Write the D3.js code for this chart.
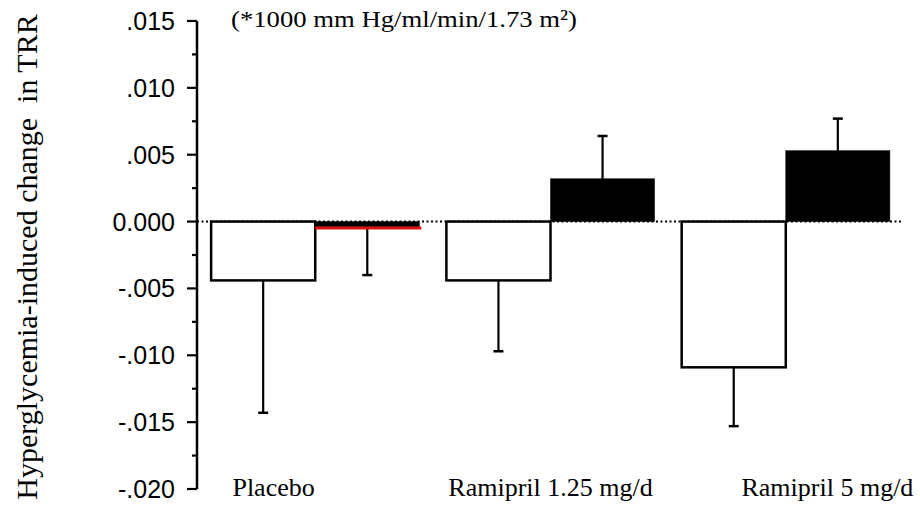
<!DOCTYPE html>
<html lang="en">
<head>
    <meta charset="UTF-8">
    <title>Hyperglycemia-induced change in TRR</title>
    <script src="https://d3js.org/d3.v7.min.js"></script>
    <style>
        body { margin: 0; background: #fff; }
        .serif { font-family: "Liberation Serif", "Times New Roman", serif; }
        .sans { font-family: "Liberation Sans", Arial, sans-serif; }
    </style>
</head>
<body>
    <svg id="chart" width="920" height="511"></svg>

    <script>
        // chart values
        const groups = ['Placebo', 'Ramipril 1.25 mg/d', 'Ramipril 5 mg/d'];
        const openMeans = [-0.0044, -0.0044, -0.0109];
        const openSem = [0.0099, 0.0053, 0.0044];
        const filledMeans = [-0.0004, 0.0032, 0.0053];
        const filledSem = [0.0036, 0.0032, 0.0024];
        const yTicks = [0.015, 0.010, 0.005, 0, -0.005, -0.010, -0.015, -0.020];
        const yTickLabels = ['.015', '.010', '.005', '0.000', '-.005', '-.010', '-.015', '-.020'];
        const yMinorTicks = [0.0125, 0.0075, 0.0025, -0.0025, -0.0075, -0.0125, -0.0175];

        const svg = d3.select('#chart');
        const axisX = 197;

        const y = d3.scaleLinear()
            .domain([-0.020, 0.015])
            .range([489, 21]);

        const x0 = d3.scaleBand()
            .domain(groups)
            .range([axisX, 904])
            .paddingInner(0.115)
            .paddingOuter(0.06);

        const x1 = d3.scaleBand()
            .domain(['open', 'filled'])
            .range([0, x0.bandwidth()]);

        // bar records built from the arrays
        const bars = [];
        groups.forEach((g, i) => {
            bars.push({ group: g, kind: 'open', mean: openMeans[i], sem: openSem[i] });
            bars.push({ group: g, kind: 'filled', mean: filledMeans[i], sem: filledSem[i] });
        });

        // dotted zero line (behind the bars)
        svg.append('line')
            .attr('x1', axisX)
            .attr('x2', 902)
            .attr('y1', y(0))
            .attr('y2', y(0))
            .attr('stroke', '#000')
            .attr('stroke-width', 2)
            .attr('stroke-dasharray', '2,2.5');

        // error bars, one-sided, away from zero
        const err = svg.append('g');
        bars.forEach(d => {
            const cx = x0(d.group) + x1(d.kind) + x1.bandwidth() / 2;
            const end = d.mean < 0 ? d.mean - d.sem : d.mean + d.sem;
            err.append('line')
                .attr('x1', cx).attr('x2', cx)
                .attr('y1', y(d.mean)).attr('y2', y(end))
                .attr('stroke', '#000').attr('stroke-width', 2.2);
            err.append('line')
                .attr('x1', cx - 5).attr('x2', cx + 5)
                .attr('y1', y(end)).attr('y2', y(end))
                .attr('stroke', '#000').attr('stroke-width', 2.5);
        });

        // bars
        svg.append('g')
            .selectAll('rect')
            .data(bars)
            .join('rect')
            .attr('x', d => x0(d.group) + x1(d.kind))
            .attr('width', x1.bandwidth())
            .attr('y', d => y(Math.max(0, d.mean)))
            .attr('height', d => Math.abs(y(d.mean) - y(0)))
            .attr('fill', d => d.kind === 'open' ? '#fff' : '#000')
            .attr('stroke', '#000')
            .attr('stroke-width', d => d.kind === 'open' ? 2.5 : 0.5);

        // red edge under the small placebo filled bar
        const redBar = bars[1];
        svg.append('line')
            .attr('x1', x0(redBar.group) + x1(redBar.kind))
            .attr('x2', x0(redBar.group) + x1(redBar.kind) + x1.bandwidth() + 2)
            .attr('y1', y(redBar.mean) + 1)
            .attr('y2', y(redBar.mean) + 1)
            .attr('stroke', '#e01010')
            .attr('stroke-width', 3);

        // y axis
        const yAxis = svg.append('g')
            .attr('transform', `translate(${axisX},0)`);
        yAxis.append('line')
            .attr('x1', 0).attr('x2', 0)
            .attr('y1', y(0.015)).attr('y2', y(-0.020))
            .attr('stroke', '#000').attr('stroke-width', 2.5);
        yAxis.selectAll('.major')
            .data(yTicks)
            .join('line')
            .attr('class', 'major')
            .attr('x1', -10).attr('x2', 0)
            .attr('y1', d => y(d)).attr('y2', d => y(d))
            .attr('stroke', '#000').attr('stroke-width', 2.2);
        yAxis.selectAll('.minor')
            .data(yMinorTicks)
            .join('line')
            .attr('class', 'minor')
            .attr('x1', -5).attr('x2', 0)
            .attr('y1', d => y(d)).attr('y2', d => y(d))
            .attr('stroke', '#000').attr('stroke-width', 2.2);
        yAxis.selectAll('text')
            .data(yTicks)
            .join('text')
            .attr('class', 'sans')
            .attr('x', -22)
            .attr('y', d => y(d))
            .attr('dy', '0.36em')
            .attr('text-anchor', 'end')
            .style('font-size', '25px')
            .text((d, i) => yTickLabels[i]);

        // y axis title
        svg.append('text')
            .attr('class', 'serif')
            .attr('transform', 'translate(37,257) rotate(-90)')
            .attr('text-anchor', 'middle')
            .style('font-size', '30px')
            .style('white-space', 'pre')
            .text('Hyperglycemia-induced change  in TRR');

        // units note
        svg.append('text')
            .attr('class', 'serif')
            .attr('x', 231)
            .attr('y', 27)
            .attr('textLength', 346)
            .attr('lengthAdjust', 'spacingAndGlyphs')
            .style('font-size', '24px')
            .text('(*1000 mm Hg/ml/min/1.73 m\u00B2)');

        // category labels
        const labelShift = [-0.2, 0, 0.2];
        svg.append('g')
            .selectAll('text')
            .data(groups)
            .join('text')
            .attr('class', 'serif')
            .attr('x', (d, i) => x0(d) + x0.bandwidth() / 2 + labelShift[i] * x0.bandwidth())
            .attr('y', 496)
            .attr('text-anchor', 'middle')
            .style('font-size', '26px')
            .text(d => d);
    </script>
</body>
</html>
